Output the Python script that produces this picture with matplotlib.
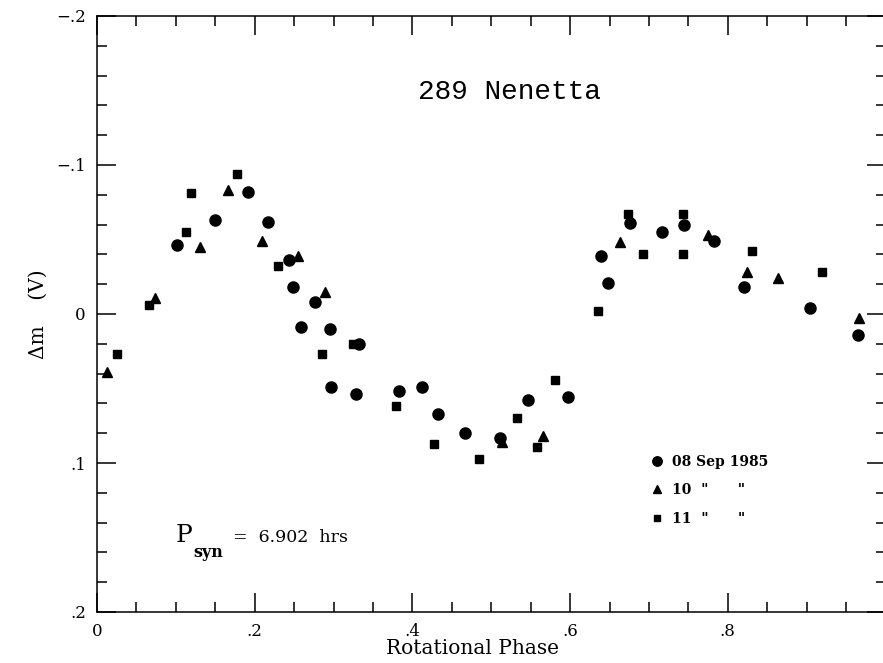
import numpy as np
import matplotlib
matplotlib.use("Agg")
from matplotlib import pyplot as plt
from matplotlib.ticker import MultipleLocator, FuncFormatter

# Data (phase, delta mag)
x_sep08 = [0.102, 0.150, 0.192, 0.217, 0.244, 0.248, 0.259, 0.277, 0.296, 0.297,
           0.328, 0.332, 0.383, 0.412, 0.433, 0.467, 0.511, 0.546, 0.597, 0.639,
           0.648, 0.676, 0.717, 0.744, 0.782, 0.821, 0.904, 0.965]
y_sep08 = [-0.046, -0.063, -0.082, -0.062, -0.036, -0.018, 0.009, -0.008, 0.010, 0.049,
           0.054, 0.020, 0.052, 0.049, 0.067, 0.080, 0.083, 0.058, 0.056, -0.039,
           -0.021, -0.061, -0.055, -0.060, -0.049, -0.018, -0.004, 0.014]

x_sep10 = [0.013, 0.074, 0.131, 0.166, 0.209, 0.255, 0.289, 0.513, 0.565, 0.663,
           0.775, 0.824, 0.864, 0.966]
y_sep10 = [0.039, -0.011, -0.045, -0.083, -0.049, -0.039, -0.015, 0.086, 0.082, -0.048,
           -0.053, -0.028, -0.024, 0.003]

x_sep11 = [0.025, 0.066, 0.113, 0.119, 0.178, 0.229, 0.285, 0.325, 0.379, 0.427,
           0.484, 0.533, 0.558, 0.581, 0.635, 0.674, 0.693, 0.743, 0.743, 0.831, 0.919]
y_sep11 = [0.027, -0.006, -0.055, -0.081, -0.094, -0.032, 0.027, 0.020, 0.062, 0.087,
           0.097, 0.070, 0.089, 0.044, -0.002, -0.067, -0.040, -0.067, -0.040, -0.042, -0.028]

labels = ['08 Sep 1985', '10  "      "', '11  "      "']

W, H = 883, 663
fig = plt.figure(figsize=(W / 100, H / 100), dpi=100)
ax = fig.add_axes([97 / W, 51 / H, 788.5 / W, 596 / H])

ax.plot(x_sep08, y_sep08, 'o', color='black', markersize=8, label=labels[0])
ax.plot(x_sep10, y_sep10, '^', color='black', markersize=7, label=labels[1])
ax.plot(x_sep11, y_sep11, 's', color='black', markersize=5.5, label=labels[2])

ax.set_xlim(0, 1)
ax.set_ylim(0.2, -0.2)

# Axis ticks
def fmt(v, pos):
    if abs(v) < 1e-9:
        return '0'
    s = '%.1f' % v
    return s.replace('0.', '.')

ax.xaxis.set_major_locator(MultipleLocator(0.2))
ax.xaxis.set_minor_locator(MultipleLocator(0.05))
ax.yaxis.set_major_locator(MultipleLocator(0.1))
ax.yaxis.set_minor_locator(MultipleLocator(0.02))
ax.xaxis.set_major_formatter(FuncFormatter(lambda v, p: '' if v > 0.99 else fmt(v, p)))
ax.yaxis.set_major_formatter(FuncFormatter(lambda v, p: fmt(v, p).replace('-', '\u2212')))

ax.tick_params(which='both', direction='in', top=True, right=True, width=1.1,
               labelsize=12, pad=8)
ax.tick_params(which='major', length=14)
ax.tick_params(which='minor', length=7.5)
for lab in ax.get_xticklabels() + ax.get_yticklabels():
    lab.set_family('DejaVu Serif')
for sp in ax.spines.values():
    sp.set_linewidth(1.1)

ax.set_xlabel('Rotational Phase', family='DejaVu Serif', fontsize=14.5)
ax.xaxis.set_label_coords(0.4756, -0.046)
ax.set_ylabel('\u0394m    (V)', family='DejaVu Serif', fontsize=14.5)
ax.yaxis.set_label_coords(-0.062, 0.5)

# Titles
ax.text(0.523, 0.873, '289 Nenetta', transform=ax.transAxes, ha='center', va='center',
        family='Liberation Mono', fontsize=20)
fig.text(176 / W, 1 - 542 / H, 'P', family='DejaVu Serif', fontsize=18, va='baseline')
fig.text(193 / W, 1 - 557 / H, 'syn', family='DejaVu Serif', fontsize=11.5,
         fontweight='bold', va='baseline')
fig.text(233 / W, 1 - 542 / H, '=  6.902  hrs', family='DejaVu Serif', fontsize=12.5,
         va='baseline')

leg = ax.legend(loc='upper left', bbox_to_anchor=(0.685, 0.285), frameon=False,
                markerscale=0.85, handlelength=1.0, handletextpad=0.6,
                labelspacing=1.05, prop={'family': 'DejaVu Serif', 'weight': 'bold',
                                         'size': 10})

fig.savefig('out.png', dpi=100)
